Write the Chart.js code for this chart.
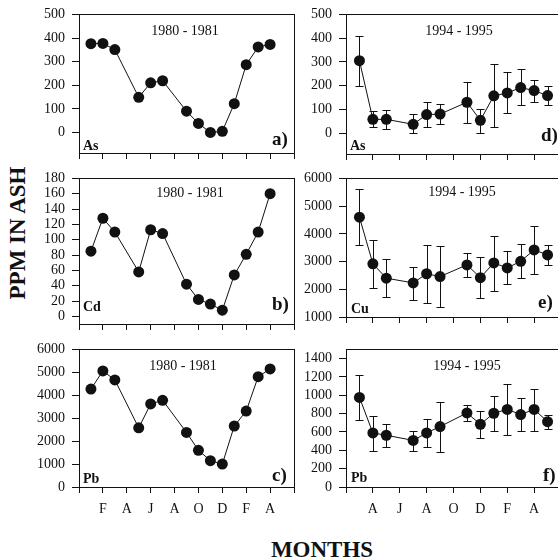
<!DOCTYPE html>
<html><head><meta charset="utf-8">
<script src="https://cdn.jsdelivr.net/npm/chart.js@4"></script>
<style>
html,body{margin:0;padding:0;background:#fff;overflow:hidden;}
#wrap{position:relative;width:558px;height:560px;overflow:hidden;background:#fff;}
canvas{position:absolute;}
.lab{position:absolute;font-family:"Liberation Serif","Times New Roman",serif;font-weight:bold;color:#111;white-space:nowrap;line-height:1;}
</style></head><body>
<div id="wrap">
<div class="lab" style="left:17px;top:233px;font-size:23px;transform:translate(-50%,-50%) rotate(-90deg);">PPM IN ASH</div>
<div class="lab" style="left:322px;top:549px;font-size:23px;transform:translate(-50%,-50%);">MONTHS</div>
</div>
<script>
// ---- data ----
const monthTicks8081 = ['', 'F', 'A', 'J', 'A', 'O', 'D', 'F', 'A', ''];
const monthTicks9495 = ['', 'A', 'J', 'A', 'O', 'D', 'F', 'A', ''];
// month positions: 1980-81 counted from Dec 1979, 1994-95 counted from Feb 1994
const months8081 = [1, 2, 3, 5, 6, 7, 9, 10, 11, 12, 13, 14, 15, 16];
const months9495 = [1, 2, 3, 5, 6, 7, 9, 10, 11, 12, 13, 14, 15];

const as8081 = [376, 377, 351, 149, 210, 219, 90, 38, 0, 5, 122, 287, 362, 373];
const cd8081 = [85, 128, 110, 58, 113, 108, 42, 22, 16, 8, 54, 81, 110, 160];
const pb8081 = [4270, 5060, 4670, 2580, 3620, 3780, 2380, 1600, 1150, 1000, 2660, 3310, 4810, 5150];

const as9495 = [305, 58, 58, 37, 78, 80, 130, 54, 157, 169, 192, 179, 158];
const as9495High = [411, 92, 99, 81, 130, 122, 216, 103, 290, 257, 269, 225, 198];
const as9495Low = [198, 26, 16, 0, 26, 37, 44, 1, 26, 84, 117, 133, 118];

const cu9495 = [4600, 2920, 2400, 2230, 2560, 2460, 2880, 2420, 2950, 2770, 3010, 3420, 3240];
const cu9495High = [5620, 3790, 3080, 2810, 3610, 3550, 3310, 3180, 3930, 3370, 3620, 4290, 3610];
const cu9495Low = [3610, 2050, 1730, 1610, 1510, 1370, 2430, 1670, 1950, 2200, 2400, 2560, 2860];

const pb9495 = [977, 589, 564, 508, 589, 659, 807, 684, 804, 846, 790, 846, 712];
const pb9495High = [1216, 772, 684, 613, 737, 931, 889, 829, 994, 1118, 966, 1065, 790];
const pb9495Low = [730, 395, 437, 395, 437, 384, 723, 536, 613, 571, 613, 613, 635];

const title8081 = '1980 - 1981';
const title9495 = '1994 - 1995';

// ---- drawing ----
const FONT = '"Liberation Serif","Times New Roman",serif';
const INK = '#111';
const AX_W = 60, PAD_T = 12, PAD_R = 12, AX_H = 40;

const errorBarPlugin = {
  id: 'errorBars',
  beforeDatasetsDraw(chart) {
    const d = chart.data.datasets[0];
    if (!d.errLow) return;
    const ctx = chart.ctx, xs = chart.scales.x, ys = chart.scales.y;
    ctx.save();
    ctx.strokeStyle = INK; ctx.lineWidth = 1;
    d.data.forEach((p, i) => {
      const x = Math.round(xs.getPixelForValue(p.x)) + 0.5;
      const yl = Math.round(ys.getPixelForValue(d.errLow[i])) + 0.5;
      const yh = Math.round(ys.getPixelForValue(d.errHigh[i])) + 0.5;
      ctx.beginPath();
      ctx.moveTo(x, yl); ctx.lineTo(x, yh);
      ctx.moveTo(x - 4, yl); ctx.lineTo(x + 4, yl);
      ctx.moveTo(x - 4, yh); ctx.lineTo(x + 4, yh);
      ctx.stroke();
    });
    ctx.restore();
  }
};

function decorPlugin(t) {
  return {
    id: 'decor',
    beforeDatasetsDraw(chart) {
      const ctx = chart.ctx, ca = chart.chartArea;
      ctx.save();
      ctx.strokeStyle = INK; ctx.lineWidth = 1;
      ctx.strokeRect(Math.round(ca.left) + 0.5, Math.round(ca.top) + 0.5,
        Math.round(ca.right - ca.left), Math.round(ca.bottom - ca.top));
      ctx.restore();
    },
    afterDraw(chart) {
      const ctx = chart.ctx, ca = chart.chartArea;
      ctx.save();
      ctx.fillStyle = INK;
      ctx.textBaseline = 'alphabetic';
      ctx.font = '14px ' + FONT; ctx.textAlign = 'center';
      ctx.fillText(t.title, ca.left + t.tx, ca.top + t.ty);
      ctx.font = 'bold 14px ' + FONT; ctx.textAlign = 'left';
      ctx.fillText(t.element, ca.left + t.ex, ca.top + t.ey);
      ctx.font = 'bold 19px ' + FONT; ctx.textAlign = 'left';
      ctx.fillText(t.letter, ca.left + t.lx, ca.top + t.ly);
      ctx.restore();
    }
  };
}

function makePanel(cfg) {
  const wrap = document.getElementById('wrap');
  const cv = document.createElement('canvas');
  const W = AX_W + cfg.box.w + PAD_R, H = PAD_T + cfg.box.h + AX_H;
  cv.width = W; cv.height = H;
  cv.style.left = (cfg.box.left - AX_W) + 'px';
  cv.style.top = (cfg.box.top - PAD_T) + 'px';
  cv.style.width = W + 'px'; cv.style.height = H + 'px';
  wrap.appendChild(cv);
  const ds = {
    data: cfg.xs.map((x, i) => ({ x: x, y: cfg.ys[i] })),
    borderColor: INK, borderWidth: 1, tension: 0,
    pointRadius: 5.5, pointBackgroundColor: INK, pointBorderWidth: 0,
    pointHoverRadius: 5.5, clip: false
  };
  if (cfg.low) { ds.errLow = cfg.low; ds.errHigh = cfg.high; }
  new Chart(cv, {
    type: 'line',
    data: { datasets: [ds] },
    plugins: [errorBarPlugin, decorPlugin(cfg.text)],
    options: {
      responsive: false, animation: false, devicePixelRatio: 1, events: [],
      layout: { padding: { top: PAD_T, right: PAD_R, left: 0, bottom: 0 } },
      plugins: { legend: { display: false }, tooltip: { enabled: false } },
      scales: {
        x: {
          type: 'linear', min: 0, max: cfg.xMax,
          afterFit: s => { s.height = AX_H; },
          border: { display: false },
          grid: { drawOnChartArea: false, drawTicks: true, tickLength: 6, color: INK, lineWidth: 1 },
          ticks: {
            stepSize: 2, autoSkip: false, maxRotation: 0, padding: 8, color: INK,
            font: { family: FONT, size: 14 },
            callback: v => cfg.showLabels ? (cfg.tickLabels[Math.round(v / 2)] || '') : ''
          }
        },
        y: {
          type: 'linear', min: cfg.yMin, max: cfg.yMax,
          afterFit: s => { s.width = AX_W; },
          border: { display: false },
          grid: { drawOnChartArea: false, drawTicks: true, tickLength: 7, color: INK, lineWidth: 1 },
          ticks: { stepSize: cfg.yStep, includeBounds: false, autoSkip: false, padding: 7, color: INK,
            font: { family: FONT, size: 14 }, callback: v => String(v) }
        }
      }
    }
  });
}

// a) As 1980-81
makePanel({ box: { left: 79, top: 11, w: 215, h: 142 }, xMax: 18, xs: months8081, ys: as8081,
  yMin: -87, yMax: 500, yStep: 100, tickLabels: monthTicks8081, showLabels: false,
  text: { title: title8081, tx: 106, ty: 21, element: 'As', ex: 4, ey: 136, letter: 'a)', lx: 193, ly: 131 } });
// b) Cd 1980-81
makePanel({ box: { left: 79, top: 175, w: 215, h: 149 }, xMax: 18, xs: months8081, ys: cd8081,
  yMin: -10, yMax: 180, yStep: 20, tickLabels: monthTicks8081, showLabels: false,
  text: { title: title8081, tx: 111, ty: 19, element: 'Cd', ex: 4, ey: 133, letter: 'b)', lx: 193, ly: 132 } });
// c) Pb 1980-81
makePanel({ box: { left: 79, top: 346, w: 215, h: 141 }, xMax: 18, xs: months8081, ys: pb8081,
  yMin: 0, yMax: 6000, yStep: 1000, tickLabels: monthTicks8081, showLabels: true,
  text: { title: title8081, tx: 104, ty: 21, element: 'Pb', ex: 4, ey: 134, letter: 'c)', lx: 193, ly: 132 } });
// d) As 1994-95
makePanel({ box: { left: 346, top: 11, w: 215, h: 143 }, xMax: 16, xs: months9495, ys: as9495,
  low: as9495Low, high: as9495High,
  yMin: -88, yMax: 500, yStep: 100, tickLabels: monthTicks9495, showLabels: false,
  text: { title: title9495, tx: 113, ty: 21, element: 'As', ex: 4, ey: 136, letter: 'd)', lx: 195, ly: 127 } });
// e) Cu 1994-95
makePanel({ box: { left: 346, top: 175, w: 215, h: 142 }, xMax: 16, xs: months9495, ys: cu9495,
  low: cu9495Low, high: cu9495High,
  yMin: 1000, yMax: 6000, yStep: 1000, tickLabels: monthTicks9495, showLabels: false,
  text: { title: title9495, tx: 116, ty: 18, element: 'Cu', ex: 5, ey: 135, letter: 'e)', lx: 192, ly: 130 } });
// f) Pb 1994-95
makePanel({ box: { left: 346, top: 346, w: 215, h: 141 }, xMax: 16, xs: months9495, ys: pb9495,
  low: pb9495Low, high: pb9495High,
  yMin: 0, yMax: 1500, yStep: 200, tickLabels: monthTicks9495, showLabels: true,
  text: { title: title9495, tx: 121, ty: 21, element: 'Pb', ex: 5, ey: 133, letter: 'f)', lx: 197, ly: 132 } });
</script>
</body></html>
